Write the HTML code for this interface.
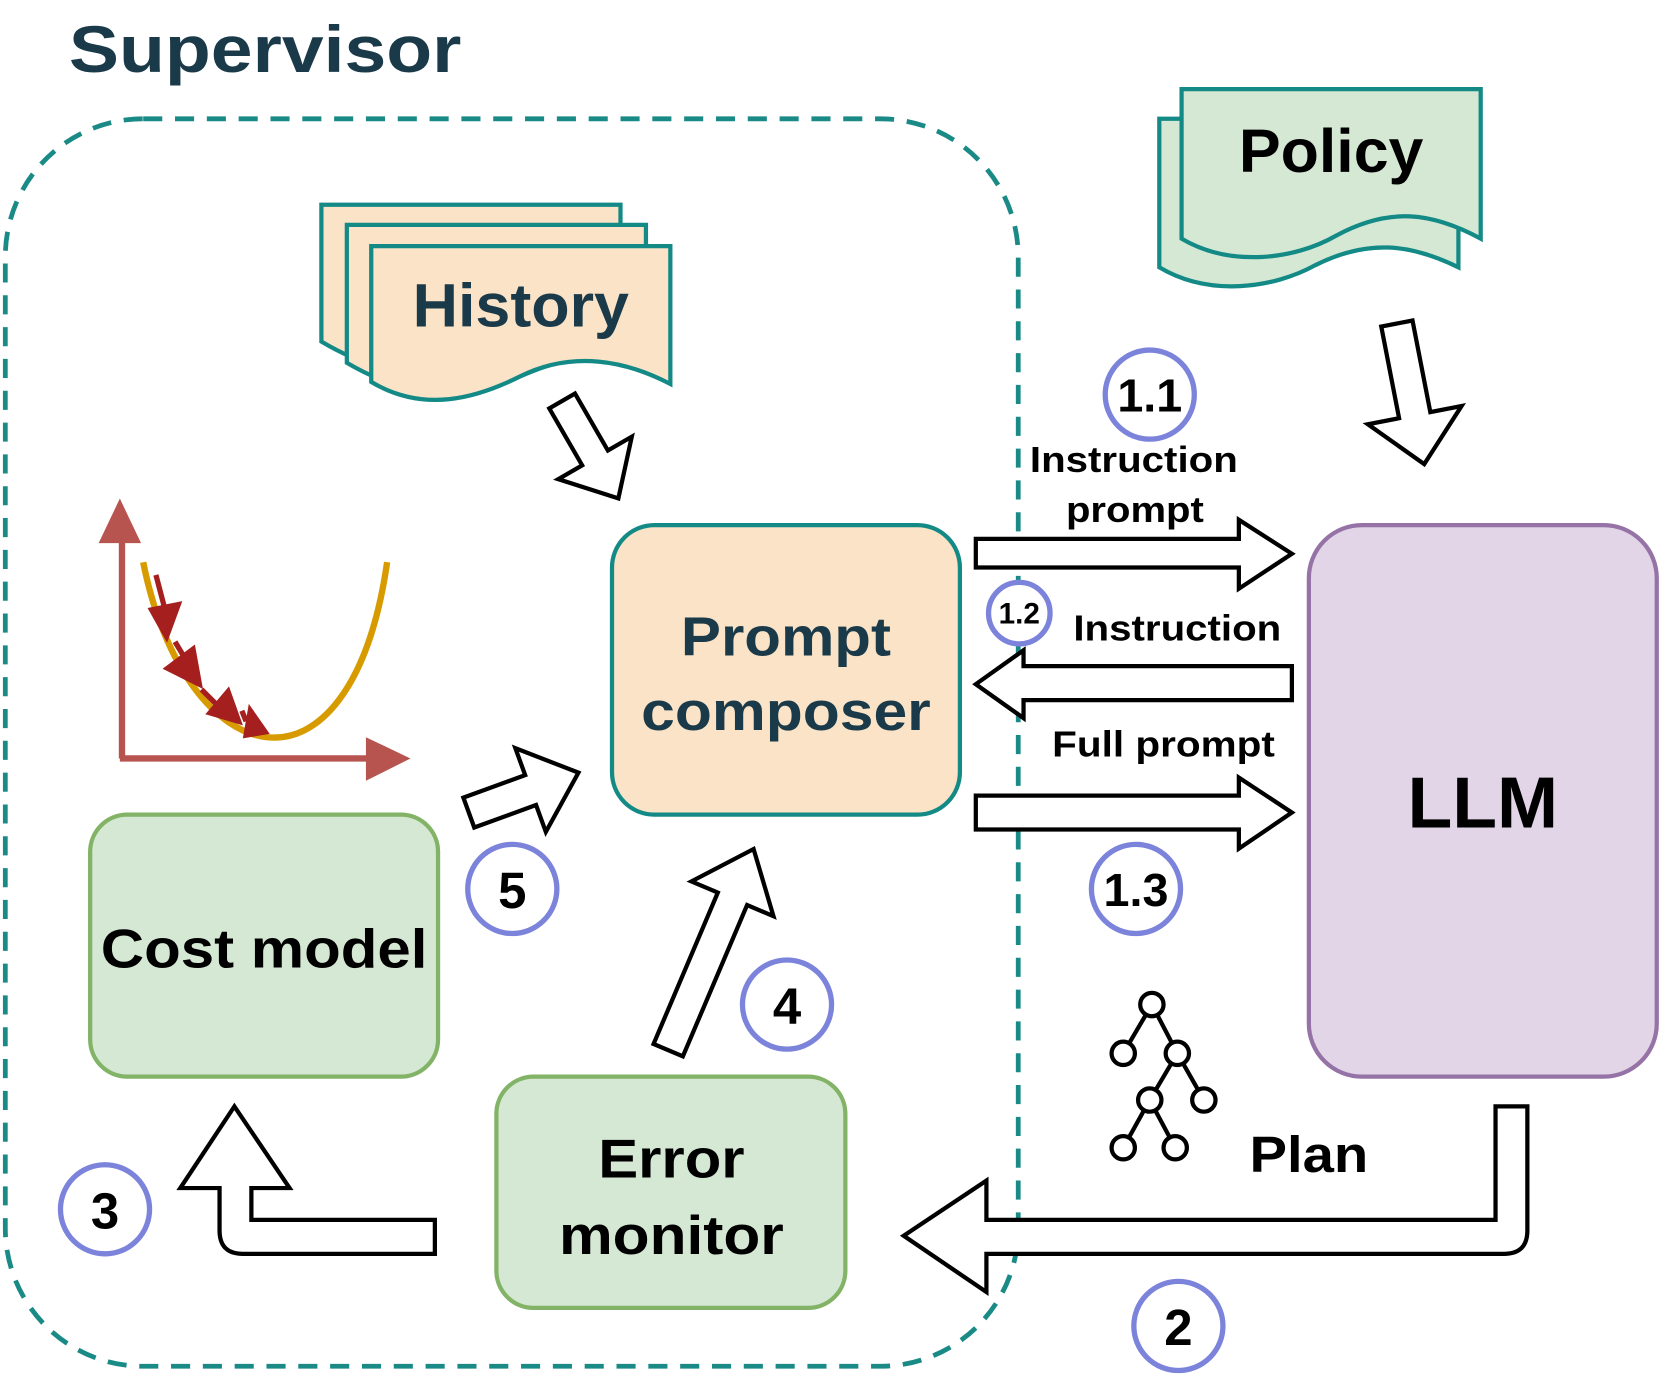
<!DOCTYPE html>
<html><head><style>
html,body{margin:0;padding:0;background:#fff;}
svg{display:block;}
text{font-family:"Liberation Sans",Arial,sans-serif;font-weight:bold;}
</style></head><body>
<svg width="1661" height="1379" viewBox="0 0 1566 1300" preserveAspectRatio="none" xmlns="http://www.w3.org/2000/svg">
<text x="65" y="68" font-size="62" fill="#1a3a4a" textLength="370" lengthAdjust="spacingAndGlyphs">Supervisor</text>
<rect x="5" y="112" width="955" height="1176" rx="130" fill="none" stroke="#1a8a86" stroke-width="4.5" stroke-dasharray="18,12"/>

<g fill="#fae3c6" stroke="#148a87" stroke-width="4">
<path d="M303 193 H585 V320 C520 305 480 330 440 345 C400 360 350 350 303 322 Z"/>
<path d="M327 212 H609 V340 C545 325 505 350 465 365 C425 380 375 370 327 342 Z"/>
<path d="M350 232 H632 V362 C590 340 540 330 490 355 C450 375 400 390 350 360 Z"/>
</g>
<text x="491" y="308" font-size="58" fill="#1a3a4a" text-anchor="middle" textLength="204" lengthAdjust="spacingAndGlyphs">History</text>

<g fill="#d5e8d4" stroke="#148a87" stroke-width="4">
<path d="M1093 112 H1375 V252 C1330 230 1290 225 1240 250 C1200 272 1140 280 1093 252 Z"/>
<path d="M1114 84 H1396 V225 C1350 200 1310 195 1260 222 C1220 245 1160 252 1114 225 Z"/>
</g>
<text x="1255" y="162" font-size="58" fill="#000" text-anchor="middle" textLength="174" lengthAdjust="spacingAndGlyphs">Policy</text>

<rect x="577" y="495" width="328" height="273" rx="40" fill="#fae3c6" stroke="#148a87" stroke-width="4"/>
<text x="741" y="618" font-size="52" fill="#1a3a4a" text-anchor="middle" textLength="198" lengthAdjust="spacingAndGlyphs">Prompt</text>
<text x="741" y="688" font-size="52" fill="#1a3a4a" text-anchor="middle" textLength="273" lengthAdjust="spacingAndGlyphs">composer</text>

<rect x="1234" y="495" width="328" height="520" rx="50" fill="#e1d5e7" stroke="#9673a6" stroke-width="4"/>
<text x="1398" y="780" font-size="68" fill="#000" text-anchor="middle" textLength="142" lengthAdjust="spacingAndGlyphs">LLM</text>

<rect x="85" y="768" width="328" height="247" rx="35" fill="#d5e8d4" stroke="#82b366" stroke-width="4"/>
<text x="249" y="912" font-size="52" fill="#000" text-anchor="middle" textLength="308" lengthAdjust="spacingAndGlyphs">Cost model</text>

<rect x="468" y="1015" width="329" height="218" rx="35" fill="#d5e8d4" stroke="#82b366" stroke-width="4"/>
<text x="633" y="1110" font-size="52" fill="#000" text-anchor="middle" textLength="138" lengthAdjust="spacingAndGlyphs">Error</text>
<text x="633" y="1182" font-size="52" fill="#000" text-anchor="middle" textLength="212" lengthAdjust="spacingAndGlyphs">monitor</text>

<g fill="#fff" stroke="#000" stroke-width="4" stroke-linejoin="miter">
<path d="M920 508 H1168 V490 L1218 522 L1168 555 V535 H920 Z"/>
<path d="M1218 628 H965 V613 L920 645 L965 677 V660 H1218 Z"/>
<path d="M920 750 H1168 V733 L1218 766 L1168 800 V782 H920 Z"/>
<path d="M0 -14 H62 V-40 L106 0 L62 40 V14 H0 Z" transform="translate(530,378) rotate(60)"/>
<path d="M0 -15 H88 V-45 L135 0 L88 45 V15 H0 Z" transform="translate(1317,305) rotate(79)"/>
<path d="M0 -15 H62 V-42 L110 0 L62 42 V15 H0 Z" transform="translate(442,766) rotate(-20)"/>
<path d="M0 -15 H155 V-42 L206 0 L155 42 V15 H0 Z" transform="translate(630,990) rotate(-67)"/>
<path d="M410 1150 H237 V1120 H273 L221 1043 L170 1120 H207 V1160 Q207 1182 229 1182 H410 Z"/>
<path d="M1410 1043 H1440 V1160 Q1440 1182 1418 1182 H930 V1218 L852 1165 L930 1113 V1150 H1410 Z"/>
</g>

<g stroke="#b85450" stroke-width="6" fill="none">
<path d="M115 715 V500"/><path d="M113 715 H352"/>
</g>
<path d="M93 512 L113 470 L133 512 Z" fill="#b85450"/>
<path d="M345 695 L387 715 L345 736 Z" fill="#b85450"/>
<path d="M135 530 C175 730 330 770 365 530" fill="none" stroke="#d79b00" stroke-width="6"/>
<g fill="#a51f1f" stroke="#a51f1f" stroke-width="5">
<line x1="147" y1="542" x2="157" y2="580"/><path d="M143 575 L157 600 L168 570 Z"/>
<line x1="165" y1="605" x2="180" y2="630"/><path d="M158 630 L188 645 L182 612 Z"/>
<line x1="190" y1="650" x2="205" y2="665"/><path d="M198 672 L225 680 L215 652 Z"/>
<line x1="228" y1="670" x2="232" y2="680"/><path d="M232 693 L250 690 L236 670 Z"/>
</g>

<g stroke="#000" stroke-width="4" fill="#fff">
<line x1="1086" y1="947" x2="1059" y2="993"/><line x1="1086" y1="947" x2="1110" y2="993"/>
<line x1="1110" y1="993" x2="1084" y2="1037"/><line x1="1110" y1="993" x2="1135" y2="1037"/>
<line x1="1084" y1="1037" x2="1059" y2="1082"/><line x1="1084" y1="1037" x2="1108" y2="1082"/>
<circle cx="1086" cy="947" r="11"/><circle cx="1059" cy="993" r="11"/><circle cx="1110" cy="993" r="11"/>
<circle cx="1084" cy="1037" r="11"/><circle cx="1135" cy="1037" r="11"/><circle cx="1059" cy="1082" r="11"/><circle cx="1108" cy="1082" r="11"/>
</g>

<g fill="#000">
<text x="1069" y="445" font-size="34" text-anchor="middle" textLength="196" lengthAdjust="spacingAndGlyphs">Instruction</text>
<text x="1070" y="492" font-size="34" text-anchor="middle" textLength="130" lengthAdjust="spacingAndGlyphs">prompt</text>
<text x="1110" y="604" font-size="34" text-anchor="middle" textLength="196" lengthAdjust="spacingAndGlyphs">Instruction</text>
<text x="1097" y="713" font-size="34" text-anchor="middle" textLength="210" lengthAdjust="spacingAndGlyphs">Full prompt</text>
<text x="1234" y="1105" font-size="48" text-anchor="middle" textLength="112" lengthAdjust="spacingAndGlyphs">Plan</text>
</g>

<g fill="#fff" stroke="#7b83db" stroke-width="5">
<circle cx="1084" cy="372" r="42"/><circle cx="961" cy="578" r="29"/><circle cx="483" cy="838" r="42"/>
<circle cx="1071" cy="838" r="42"/><circle cx="742" cy="947" r="42"/><circle cx="99" cy="1140" r="42"/><circle cx="1111" cy="1250" r="42"/>
</g>
<g fill="#000" text-anchor="middle">
<text x="1084" y="388" font-size="44">1.1</text>
<text x="961" y="588" font-size="28">1.2</text>
<text x="483" y="856" font-size="48">5</text>
<text x="1071" y="854" font-size="44">1.3</text>
<text x="742" y="965" font-size="48">4</text>
<text x="99" y="1158" font-size="48">3</text>
<text x="1111" y="1268" font-size="48">2</text>
</g>
</svg>
</body></html>
